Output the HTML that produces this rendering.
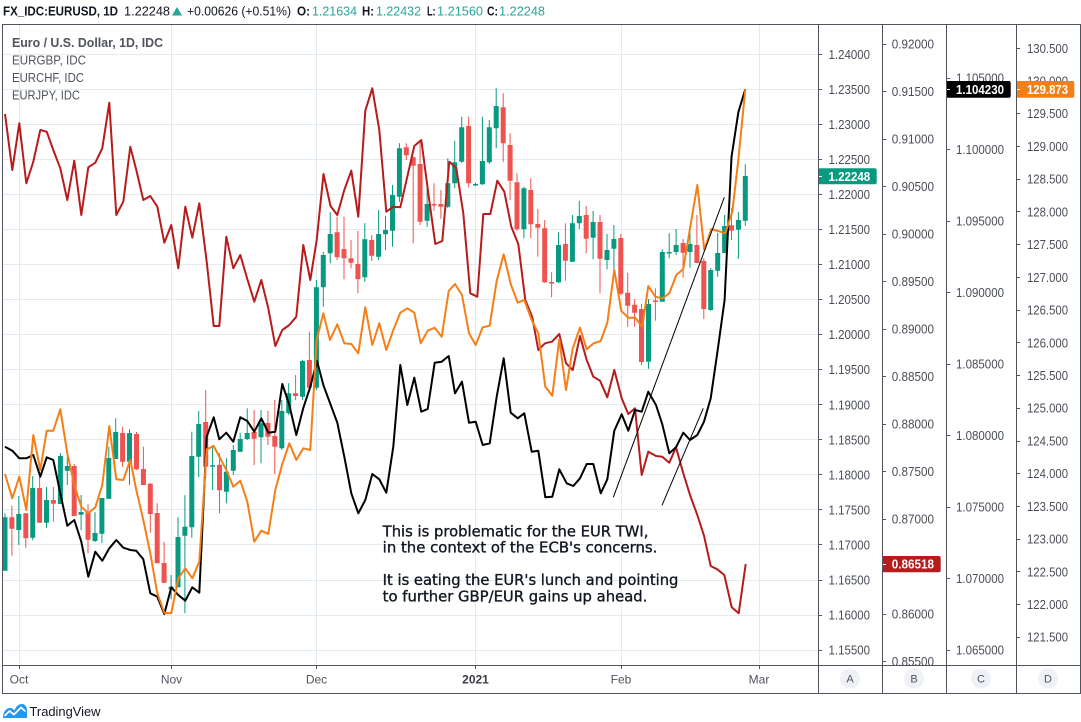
<!DOCTYPE html>
<html><head><meta charset="utf-8"><style>
html,body{margin:0;padding:0;background:#fff;}
svg{display:block;}
text{font-family:"Liberation Sans",Arial,sans-serif;}
</style></head><body>
<svg width="1081" height="722" viewBox="0 0 1081 722" xmlns="http://www.w3.org/2000/svg">
<rect x="0" y="0" width="1081" height="722" fill="#fff"/>
<defs><clipPath id="axc"><rect x="818" y="25" width="263" height="640"/></clipPath></defs>

<!-- header -->
<g font-size="12.5" fill="#131722">
<text x="3" y="15.5" font-weight="bold" textLength="115" lengthAdjust="spacingAndGlyphs">FX_IDC:EURUSD, 1D</text>
<text x="124" y="15.5" textLength="46" lengthAdjust="spacingAndGlyphs">1.22248</text>
<text x="187" y="15.5" textLength="104" lengthAdjust="spacingAndGlyphs">+0.00626 (+0.51%)</text>
<text x="297" y="15.5" font-weight="bold" textLength="13" lengthAdjust="spacingAndGlyphs">O:</text>
<text x="362" y="15.5" font-weight="bold" textLength="12" lengthAdjust="spacingAndGlyphs">H:</text>
<text x="427" y="15.5" font-weight="bold" textLength="8.5" lengthAdjust="spacingAndGlyphs">L:</text>
<text x="487" y="15.5" font-weight="bold" textLength="11" lengthAdjust="spacingAndGlyphs">C:</text>
</g>
<polygon points="172,15.5 177,7 182,15.5" fill="#26a69a"/>
<g font-size="12.5" fill="#26a69a">
<text x="312" y="15.5" textLength="45" lengthAdjust="spacingAndGlyphs">1.21634</text>
<text x="376" y="15.5" textLength="45" lengthAdjust="spacingAndGlyphs">1.22432</text>
<text x="437" y="15.5" textLength="46" lengthAdjust="spacingAndGlyphs">1.21560</text>
<text x="499" y="15.5" textLength="46" lengthAdjust="spacingAndGlyphs">1.22248</text>
</g>

<!-- grid -->
<g stroke="#e3eaf0" stroke-width="1">
<path d="M3 54.5H818M3 89.5H818M3 124.5H818M3 159.5H818M3 194.5H818M3 229.5H818M3 264.5H818M3 299.5H818M3 334.5H818M3 369.5H818M3 404.5H818M3 439.5H818M3 474.5H818M3 509.5H818M3 544.5H818M3 580.5H818M3 615.5H818M3 650.5H818"/>
<path d="M19.5 25V665M171.5 25V665M316.5 25V665M475.5 25V665M621.5 25V665M759.5 25V665"/>
</g>

<!-- legend -->
<g font-size="13" fill="#50535e">
<text x="12" y="47" font-weight="bold" textLength="151" lengthAdjust="spacingAndGlyphs">Euro / U.S. Dollar, 1D, IDC</text>
<text x="12" y="64.5" textLength="74" lengthAdjust="spacingAndGlyphs">EURGBP, IDC</text>
<text x="12" y="82" textLength="72" lengthAdjust="spacingAndGlyphs">EURCHF, IDC</text>
<text x="12" y="99.5" textLength="68" lengthAdjust="spacingAndGlyphs">EURJPY, IDC</text>
</g>

<!-- candles -->
<path fill="none" stroke="#089981" stroke-width="1" d="M5 513.3V570.7M18.8 496V545M32.7 476V540.3M46.5 487V527.7M60.4 453V504M67.3 456.7V485M81.1 495V530M95 512.3V542M101.9 498V543M108.8 446.7V499M115.7 418.3V459M129.5 429.3V485M171.1 575V599.3M178 517.3V587.3M184.9 495.3V613.3M191.8 431.7V537.7M198.7 411V477.3M212.6 445V490M226.4 458.3V503.3M233.3 445V475M240.2 432.7V452M247.2 408.3V440M261 410V463.3M281.8 400V450M288.7 383.3V415M302.5 360V400M316.4 280V390M323.3 251.7V306.7M330.2 212.3V263.3M364.8 223.3V281.7M378.6 210V260M385.5 216V250M392.5 185V246.7M399.4 143.3V201.7M427.1 180V226.7M447.8 158.3V208M454.7 141V188.3M461.7 116.7V163M475.5 183V186M482.4 116.7V185M489.3 120V164M496.2 88.3V148.3M523.9 186.7V238.3M558.5 232.3V283M572.4 215V262M579.3 200.7V229M593.1 211V259.3M607 234V269.3M613.9 225V269.3M648.5 299V368.7M662.3 249.3V301.7M669.2 233.3V258.3M676.1 229V255M690 232V267.7M710.7 268V310.7M717.7 232.7V276.7M724.6 215V253M738.4 212V259M745.3 164.3V225.7"/>
<path fill="#089981" d="M2.5 517.3h5V570.7h-5zM16.3 514h5V530h-5zM30.2 488h5V537.7h-5zM44 500h5V522.7h-5zM57.9 456h5V504h-5zM64.8 466h5V470.7h-5zM78.6 512h5V514.7h-5zM92.5 533h5V541h-5zM99.4 498h5V533.7h-5zM106.3 458h5V498.7h-5zM113.2 432h5V459h-5zM127 433h5V461.7h-5zM168.6 586.7h5V589.3h-5zM175.5 537h5V587.3h-5zM182.4 526.7h5V535.7h-5zM189.3 456h5V527.3h-5zM196.2 424h5V456.7h-5zM210.1 465.3h5V466.7h-5zM223.9 471.7h5V491.7h-5zM230.8 450h5V470.7h-5zM237.7 439h5V451.7h-5zM244.7 433h5V439h-5zM258.5 423.3h5V437.3h-5zM279.3 411h5V448.3h-5zM286.2 393.3h5V413.3h-5zM300 361h5V396.7h-5zM313.9 287.3h5V387.7h-5zM320.8 255h5V287.3h-5zM327.7 234h5V253.3h-5zM362.3 239.3h5V277.3h-5zM376.1 234h5V256.7h-5zM383 230h5V234.3h-5zM390 195h5V230.7h-5zM396.9 148.3h5V196.7h-5zM424.6 204h5V220.7h-5zM445.3 183.3h5V206.7h-5zM452.2 162.3h5V183.3h-5zM459.2 127.3h5V161.7h-5zM473 184h5V185.5h-5zM479.9 161h5V184.3h-5zM486.8 127.3h5V162.3h-5zM493.7 106h5V128.3h-5zM521.4 188.3h5V229.3h-5zM556 245h5V282.3h-5zM569.9 223.3h5V261.7h-5zM576.8 216h5V223.3h-5zM590.6 222h5V237.7h-5zM604.5 250h5V260h-5zM611.4 239h5V248.7h-5zM646 304h5V361.7h-5zM659.8 252h5V301.7h-5zM666.7 252h5V253.5h-5zM673.6 245h5V252h-5zM687.5 244h5V252h-5zM708.2 270h5V310h-5zM715.2 253h5V270.7h-5zM722.1 226h5V253h-5zM735.9 220h5V229.7h-5zM742.8 176h5V220.7h-5z"/>
<path fill="none" stroke="#ef5350" stroke-width="1" d="M11.9 505.7V555.7M25.8 513V547.7M39.6 477.3V522.7M53.4 487V521.7M74.2 464V516M88 504.3V553.3M122.6 426.7V466.7M136.5 432V470M143.4 446.7V485M150.3 482.7V532.7M157.2 503.3V563.3M164.1 541.7V583M205.7 390V478M219.5 453.3V513.3M254.1 410V465M267.9 410.7V445M274.8 400V474M295.6 375V400M309.4 331.7V390M337.1 216.7V260M344 216.7V279.3M351 240V268.3M357.9 231V293.3M371.7 235V261M406.3 143.3V160M413.2 156.7V243.3M420.1 140.7V225M434 183.3V210.7M440.9 190V218.7M468.6 116.7V187.3M503.2 93.3V161.7M510.1 133.3V200M517 173.3V231M530.8 178.3V238.3M537.8 209V256.7M544.7 220V283M551.6 272.3V297.3M565.4 223.3V280.7M586.2 206V253.3M600 215V293.3M620.8 234V295M627.7 272.7V326.7M634.6 299V326.7M641.5 304V365M655.4 288.3V320.7M683.1 239V277.7M696.9 215V263.3M703.8 258.3V319M731.5 207.7V240"/>
<path fill="#ef5350" d="M9.4 517.3h5V528.7h-5zM23.3 513.3h5V538.3h-5zM37.1 488h5V522.7h-5zM50.9 500h5V503.7h-5zM71.7 466h5V516h-5zM85.5 512.3h5V539.7h-5zM120.1 433h5V461.7h-5zM134 434h5V469.3h-5zM140.9 469h5V485h-5zM147.8 483.7h5V514h-5zM154.7 513h5V563.3h-5zM161.6 563h5V582.7h-5zM203.2 422h5V466.7h-5zM217 464.7h5V490.3h-5zM251.6 432h5V438.7h-5zM265.4 423h5V436.7h-5zM272.3 436h5V446.7h-5zM293.1 393.3h5V396h-5zM306.9 360h5V387.7h-5zM334.6 232.3h5V257.3h-5zM341.5 249h5V258.3h-5zM348.5 258.3h5V262.7h-5zM355.4 264h5V279.3h-5zM369.2 240h5V255.7h-5zM403.8 147.3h5V155.3h-5zM410.7 157.3h5V165.7h-5zM417.6 164h5V221.7h-5zM431.5 204h5V205.5h-5zM438.4 204h5V206.7h-5zM466.1 126h5V183.3h-5zM500.7 107.3h5V143.3h-5zM507.6 145h5V180.7h-5zM514.5 182.3h5V229.3h-5zM528.3 190h5V224.3h-5zM535.3 224h5V227.7h-5zM542.2 228.3h5V282.3h-5zM549.1 282h5V283.5h-5zM562.9 244h5V260.7h-5zM583.7 215h5V238.7h-5zM597.5 222h5V258.7h-5zM618.3 238h5V293.7h-5zM625.2 292.7h5V305.7h-5zM632.1 304.7h5V312.7h-5zM639 309h5V362h-5zM652.9 300.5h5V302h-5zM680.6 243h5V252.7h-5zM694.4 245h5V263h-5zM701.3 261h5V309h-5zM729 225.3h5V230.7h-5z"/>

<!-- EURGBP red -->
<polyline fill="none" stroke="#b71c1c" stroke-width="2" stroke-linejoin="round" points="5,114 12.3,170 19.3,123.3 26.3,183.3 33.3,161.7 40.3,130 46.7,131.7 53.3,150 60.3,168.3 67.3,200 74.3,160.7 81.3,215 88.3,167.3 95.3,162.7 102.3,148.3 109.3,102.7 116.3,215 123.3,201.7 130.3,146.7 136.3,170 143.3,200 150.3,196 157.3,206.7 164.3,242.7 171.3,225 178.3,268.3 185.3,206.7 192.3,237.7 199.3,203.3 206.7,261.7 213.7,326 219.3,326 226.3,236.7 233.3,268.3 240.3,255 247.3,279 254.3,301.7 261.3,280 268.3,308.3 275.3,346 282.3,330 289.3,325 296.3,316.7 303.3,245 310.3,280 316.7,240 323.5,174 330.5,206 337.3,215 344.3,190 351.3,170.7 358.3,216.7 365.3,110.7 372.3,88.3 379.3,130 386.3,211.7 393.3,206.7 400.3,207.3 407.3,176.7 414.3,146 421.3,140 428.3,193.3 435.3,244 442.3,241 449.3,161.7 456.3,168.3 463.3,213.3 470.3,293.3 477.3,296.7 483.3,214 490.3,214 497.3,180.7 504.3,191.7 511.3,226.7 518.3,244 525.3,300 532.3,317.3 538.3,350 545,343.3 552,341.7 559.3,334 566,363.3 572.7,370 580,336 586.7,360 593.3,376.7 600,380.7 607.3,397.3 614.3,370 621.7,398.3 628.3,414 635,408.3 641.7,475 648.3,451.7 656,456 662.3,456.7 669.3,462.7 676,447.3 683.3,473.3 690,495 697.3,515 704,535.7 710.7,566 717.3,569.3 724.3,575 731.7,607.3 738.7,613.3 745.7,564"/>

<!-- EURCHF black -->
<polyline fill="none" stroke="#000" stroke-width="2" stroke-linejoin="round" points="5,446.7 12.3,450.7 19.3,458.3 26.3,458.3 33.3,455 40.3,476.7 46.7,457.3 53.3,460 60.3,493.3 67.3,525.7 74.3,520 81.3,541.7 88.3,576.7 95.3,551.7 102.3,560.7 109.3,548.3 116.3,540 123.3,547.7 130.3,550 136.3,550.7 143.3,559.3 150.3,593.3 157.3,596.7 164.3,614 171.3,587.3 178.3,595 185.3,600.7 192.3,587.3 199.3,592.7 206.7,436.7 213.7,417.3 219.3,439.3 226.3,432.7 233.3,441.7 240.3,417.3 247.3,421 254.3,431.7 261.3,418.3 268.3,432.7 275.3,431.7 282.3,384 289.3,405 296.3,435 303.3,408 310.3,386.7 317,361 323.5,385.5 330,403 337.3,422.7 344.3,456.7 351.3,493.3 358.3,513.3 365.3,500 372.3,474 379.3,479.3 386.3,492.7 393.3,446.7 400.3,365 407.3,405 414.3,377.7 421.3,411.7 427.7,409 434.7,362.7 441.7,361.7 448.7,356 455,393.3 462,381.7 469,422.7 475.7,421.7 482.7,445 489.7,443.3 496.7,396.7 503.7,358.3 510.7,412.7 517.7,418.3 524.3,413.3 531.7,451.7 538.3,450.7 545.3,497.3 552.3,496.7 559.3,469.3 566.7,483.3 573.3,486 580,478.3 586.7,464 593.3,464 600.7,493.3 607.3,479.3 614.3,430.7 621.7,414.3 628.3,430.7 635,410 641.7,411.7 648.3,391.7 656,405 662.3,424.3 669.3,453.3 676,447.3 683.3,432.7 690,440 697.3,435 704,421.7 710.7,398.3 717.7,350 724.6,300 731.5,157 738.4,112 745.3,89.3"/>

<!-- EURJPY orange -->
<polyline fill="none" stroke="#f57f17" stroke-width="2" stroke-linejoin="round" points="5,474 12.3,498.3 19.3,476.7 26.3,510 33.3,435 40.3,470 46.7,430.7 53.3,430.7 60.3,409.3 67.3,453.3 74.3,485 81.3,506.7 88.3,513.3 95.3,507.3 102.3,485 109.3,426 116.3,479.3 123.3,480 130.3,460 136.3,490 143.3,520 150.3,553.3 157.3,593.3 164.3,612.7 171.3,613.3 178.3,578.3 185.3,568.3 192.3,578.3 199.3,561.7 206.7,449.3 213.7,446 219.3,456.7 226.3,470 233.3,486.7 240.3,480.7 247.3,501.7 254.3,541.7 261.3,530.7 268.3,534 275.3,490 282.3,464 289.3,443.3 296.3,460 303.3,448.3 310.3,450 316.7,340 323.3,313.3 330,340 337.3,324.3 344.3,343.3 351.3,344 358.3,353.3 365.3,307.3 372.3,345 379.3,323.3 386.3,350 393.3,330 400.3,312.7 407.3,308.3 414.3,312.7 420.7,343.3 427.7,330.7 434.7,327.7 441.7,336.7 448.7,291 455,284 462,295 469,333.3 475.7,345 482.7,327.3 489.7,325.7 496.7,280.7 503.7,254.3 510.7,284 517.7,302.7 524.3,300 531.7,320 538.3,333.3 545.3,386.7 552.3,395.7 559.3,339.3 566,390 572.7,348.3 580,327.7 586.7,349.3 593.7,343.3 600.7,341 607.3,322.7 614.3,270 621.3,311 628.3,317.7 635.3,317.7 642.3,326.7 648.3,286 655.3,296.7 662.3,298.3 669.3,293.3 676.3,275 683.3,269 690.3,226.7 697.3,185 704.3,250 711.3,229 718.3,231 725.3,233.3 732.3,211.7 738.3,160 745.3,89.3"/>

<!-- trend lines -->
<g stroke="#000" stroke-width="1">
<line x1="613.3" y1="497.3" x2="724.3" y2="197.3"/>
<line x1="662" y1="505.3" x2="703.3" y2="408.3"/>
</g>

<!-- annotation -->
<g font-size="14.7" fill="#131722" stroke="#131722" stroke-width="0.35">
<text x="382.7" y="536.5" textLength="265.7" lengthAdjust="spacingAndGlyphs" style="font-family:'DejaVu Sans',Verdana,sans-serif">This is problematic for the EUR TWI,</text>
<text x="382.7" y="552.7" textLength="274.7" lengthAdjust="spacingAndGlyphs" style="font-family:'DejaVu Sans',Verdana,sans-serif">in the context of the ECB's concerns.</text>
<text x="382.7" y="585.2" textLength="295.7" lengthAdjust="spacingAndGlyphs" style="font-family:'DejaVu Sans',Verdana,sans-serif">It is eating the EUR's lunch and pointing</text>
<text x="382.7" y="601.4" textLength="264.7" lengthAdjust="spacingAndGlyphs" style="font-family:'DejaVu Sans',Verdana,sans-serif">to further GBP/EUR gains up ahead.</text>
</g>

<!-- axis labels -->
<g clip-path="url(#axc)">
<g stroke="#50535e" stroke-width="1">
<path d="M818 54.5h4M818 89.5h4M818 124.5h4M818 159.5h4M818 194.5h4M818 229.5h4M818 264.5h4M818 299.5h4M818 334.5h4M818 369.5h4M818 404.5h4M818 439.5h4M818 474.5h4M818 509.5h4M818 544.5h4M818 580.5h4M818 615.5h4M818 650.5h4"/>
<path d="M882 44.5h4M882 91.5h4M882 139.5h4M882 186.5h4M882 234.5h4M882 281.5h4M882 329.5h4M882 376.5h4M882 424.5h4M882 471.5h4M882 519.5h4M882 614.5h4M882 661.5h4"/>
<path d="M946 78.5h4M946 149.5h4M946 221.5h4M946 292.5h4M946 364.5h4M946 435.5h4M946 507.5h4M946 578.5h4M946 650.5h4"/>
<path d="M1016 48.5h4M1016 113.5h4M1016 146.5h4M1016 179.5h4M1016 211.5h4M1016 244.5h4M1016 277.5h4M1016 310.5h4M1016 342.5h4M1016 375.5h4M1016 408.5h4M1016 441.5h4M1016 473.5h4M1016 506.5h4M1016 539.5h4M1016 571.5h4M1016 604.5h4M1016 637.5h4"/>
</g>
<g font-size="12.5" fill="#4a4d57">
<text x="828.5" y="58.8" textLength="41.5" lengthAdjust="spacingAndGlyphs">1.24000</text>
<text x="828.5" y="93.8" textLength="41.5" lengthAdjust="spacingAndGlyphs">1.23500</text>
<text x="828.5" y="128.8" textLength="41.5" lengthAdjust="spacingAndGlyphs">1.23000</text>
<text x="828.5" y="163.9" textLength="41.5" lengthAdjust="spacingAndGlyphs">1.22500</text>
<text x="828.5" y="198.9" textLength="41.5" lengthAdjust="spacingAndGlyphs">1.22000</text>
<text x="828.5" y="234" textLength="41.5" lengthAdjust="spacingAndGlyphs">1.21500</text>
<text x="828.5" y="269.1" textLength="41.5" lengthAdjust="spacingAndGlyphs">1.21000</text>
<text x="828.5" y="304.1" textLength="41.5" lengthAdjust="spacingAndGlyphs">1.20500</text>
<text x="828.5" y="339.2" textLength="41.5" lengthAdjust="spacingAndGlyphs">1.20000</text>
<text x="828.5" y="374.2" textLength="41.5" lengthAdjust="spacingAndGlyphs">1.19500</text>
<text x="828.5" y="409.3" textLength="41.5" lengthAdjust="spacingAndGlyphs">1.19000</text>
<text x="828.5" y="444.4" textLength="41.5" lengthAdjust="spacingAndGlyphs">1.18500</text>
<text x="828.5" y="479.4" textLength="41.5" lengthAdjust="spacingAndGlyphs">1.18000</text>
<text x="828.5" y="514.5" textLength="41.5" lengthAdjust="spacingAndGlyphs">1.17500</text>
<text x="828.5" y="549.5" textLength="41.5" lengthAdjust="spacingAndGlyphs">1.17000</text>
<text x="828.5" y="584.6" textLength="41.5" lengthAdjust="spacingAndGlyphs">1.16500</text>
<text x="828.5" y="619.7" textLength="41.5" lengthAdjust="spacingAndGlyphs">1.16000</text>
<text x="828.5" y="654.7" textLength="41.5" lengthAdjust="spacingAndGlyphs">1.15500</text>

<text x="891.7" y="48.5" textLength="42.3" lengthAdjust="spacingAndGlyphs">0.92000</text>
<text x="891.7" y="96" textLength="42.3" lengthAdjust="spacingAndGlyphs">0.91500</text>
<text x="891.7" y="143.5" textLength="42.3" lengthAdjust="spacingAndGlyphs">0.91000</text>
<text x="891.7" y="191" textLength="42.3" lengthAdjust="spacingAndGlyphs">0.90500</text>
<text x="891.7" y="238.5" textLength="42.3" lengthAdjust="spacingAndGlyphs">0.90000</text>
<text x="891.7" y="286" textLength="42.3" lengthAdjust="spacingAndGlyphs">0.89500</text>
<text x="891.7" y="333.5" textLength="42.3" lengthAdjust="spacingAndGlyphs">0.89000</text>
<text x="891.7" y="381" textLength="42.3" lengthAdjust="spacingAndGlyphs">0.88500</text>
<text x="891.7" y="428.5" textLength="42.3" lengthAdjust="spacingAndGlyphs">0.88000</text>
<text x="891.7" y="476" textLength="42.3" lengthAdjust="spacingAndGlyphs">0.87500</text>
<text x="891.7" y="523.5" textLength="42.3" lengthAdjust="spacingAndGlyphs">0.87000</text>
<text x="891.7" y="618.5" textLength="42.3" lengthAdjust="spacingAndGlyphs">0.86000</text>
<text x="891.7" y="666" textLength="42.3" lengthAdjust="spacingAndGlyphs">0.85500</text>

<text x="956" y="82.5" textLength="48" lengthAdjust="spacingAndGlyphs">1.105000</text>
<text x="956" y="154" textLength="48" lengthAdjust="spacingAndGlyphs">1.100000</text>
<text x="956" y="225.5" textLength="48" lengthAdjust="spacingAndGlyphs">1.095000</text>
<text x="956" y="297" textLength="48" lengthAdjust="spacingAndGlyphs">1.090000</text>
<text x="956" y="368.5" textLength="48" lengthAdjust="spacingAndGlyphs">1.085000</text>
<text x="956" y="440" textLength="48" lengthAdjust="spacingAndGlyphs">1.080000</text>
<text x="956" y="511.5" textLength="48" lengthAdjust="spacingAndGlyphs">1.075000</text>
<text x="956" y="583" textLength="48" lengthAdjust="spacingAndGlyphs">1.070000</text>
<text x="956" y="654.5" textLength="48" lengthAdjust="spacingAndGlyphs">1.065000</text>

<text x="1027" y="52.8" textLength="41" lengthAdjust="spacingAndGlyphs">130.500</text>
<text x="1027" y="85.5" textLength="41" lengthAdjust="spacingAndGlyphs">130.000</text>
<text x="1027" y="118.2" textLength="41" lengthAdjust="spacingAndGlyphs">129.500</text>
<text x="1027" y="151" textLength="41" lengthAdjust="spacingAndGlyphs">129.000</text>
<text x="1027" y="183.7" textLength="41" lengthAdjust="spacingAndGlyphs">128.500</text>
<text x="1027" y="216.4" textLength="41" lengthAdjust="spacingAndGlyphs">128.000</text>
<text x="1027" y="249.1" textLength="41" lengthAdjust="spacingAndGlyphs">127.500</text>
<text x="1027" y="281.8" textLength="41" lengthAdjust="spacingAndGlyphs">127.000</text>
<text x="1027" y="314.6" textLength="41" lengthAdjust="spacingAndGlyphs">126.500</text>
<text x="1027" y="347.3" textLength="41" lengthAdjust="spacingAndGlyphs">126.000</text>
<text x="1027" y="380" textLength="41" lengthAdjust="spacingAndGlyphs">125.500</text>
<text x="1027" y="412.7" textLength="41" lengthAdjust="spacingAndGlyphs">125.000</text>
<text x="1027" y="445.4" textLength="41" lengthAdjust="spacingAndGlyphs">124.500</text>
<text x="1027" y="478.2" textLength="41" lengthAdjust="spacingAndGlyphs">124.000</text>
<text x="1027" y="510.9" textLength="41" lengthAdjust="spacingAndGlyphs">123.500</text>
<text x="1027" y="543.6" textLength="41" lengthAdjust="spacingAndGlyphs">123.000</text>
<text x="1027" y="576.3" textLength="41" lengthAdjust="spacingAndGlyphs">122.500</text>
<text x="1027" y="609" textLength="41" lengthAdjust="spacingAndGlyphs">122.000</text>
<text x="1027" y="641.7" textLength="41" lengthAdjust="spacingAndGlyphs">121.500</text>
</g>
</g>

<!-- price labels -->
<rect x="818" y="168.3" width="58.7" height="16" rx="2" fill="#089981"/>
<rect x="882" y="556" width="58.7" height="16.3" rx="2" fill="#b71c1c"/>
<rect x="946" y="81" width="64.7" height="16.7" rx="2" fill="#000"/>
<rect x="1016" y="81" width="58.3" height="16.7" rx="2" fill="#f57f17"/>
<g font-size="12.5" font-weight="bold" fill="#fff">
<text x="828.5" y="180.8" textLength="41.7" lengthAdjust="spacingAndGlyphs">1.22248</text>
<text x="891.7" y="568.7" textLength="42.3" lengthAdjust="spacingAndGlyphs">0.86518</text>
<text x="956" y="93.8" textLength="48" lengthAdjust="spacingAndGlyphs">1.104230</text>
<text x="1027" y="93.8" textLength="41" lengthAdjust="spacingAndGlyphs">129.873</text>
</g>
<g stroke="#fff" stroke-width="1"><path d="M818 176.5h4M882 564.5h4M946 89.5h4M1016 89.5h4"/></g>

<!-- time axis -->
<g stroke="#50535e" stroke-width="1"><path d="M19.5 665v4M171.5 665v4M316.5 665v4M475.5 665v4M621.5 665v4M759.5 665v4"/></g>
<g font-size="12" fill="#50535e" text-anchor="middle">
<text x="19" y="683.5">Oct</text>
<text x="171.5" y="683.5">Nov</text>
<text x="316.5" y="683.5">Dec</text>
<text x="475.5" y="683.5" font-weight="bold" fill="#3a3d45">2021</text>
<text x="621" y="683.5">Feb</text>
<text x="759" y="683.5">Mar</text>
</g>

<!-- axis letter circles -->
<g fill="#eef1f6"><circle cx="850" cy="678.5" r="10"/><circle cx="914" cy="678.5" r="10"/><circle cx="981" cy="678.5" r="10"/><circle cx="1048" cy="678.5" r="10"/></g>
<g font-size="11" fill="#50535e" text-anchor="middle">
<text x="850" y="682.5">A</text><text x="914" y="682.5">B</text><text x="981" y="682.5">C</text><text x="1048" y="682.5">D</text>
</g>

<!-- frame -->
<g fill="none" stroke="#50535e" stroke-width="1">
<rect x="2.5" y="24.5" width="1078" height="669"/>
<path d="M2.5 665.5H1080.5M818.5 24.5V693.5M882.5 24.5V693.5M946.5 24.5V693.5M1016.5 24.5V693.5"/>
</g>

<!-- TradingView logo -->
<g>
<path d="M3 718 C3 712 6 708 10 708 C12 708 13.5 709 14.5 710.5 C16 706 19 704 22 704 C25 704 27 707 27 710 L27 718 Z" fill="#2196f3"/>
<polyline points="4.5,716 9.5,711 14,714.5 21,707.5 25.5,711.5" fill="none" stroke="#fff" stroke-width="1.8" stroke-linejoin="round"/>
<text x="29.5" y="716" font-size="13" fill="#131722" textLength="71" lengthAdjust="spacingAndGlyphs">TradingView</text>
</g>
</svg>
</body></html>
